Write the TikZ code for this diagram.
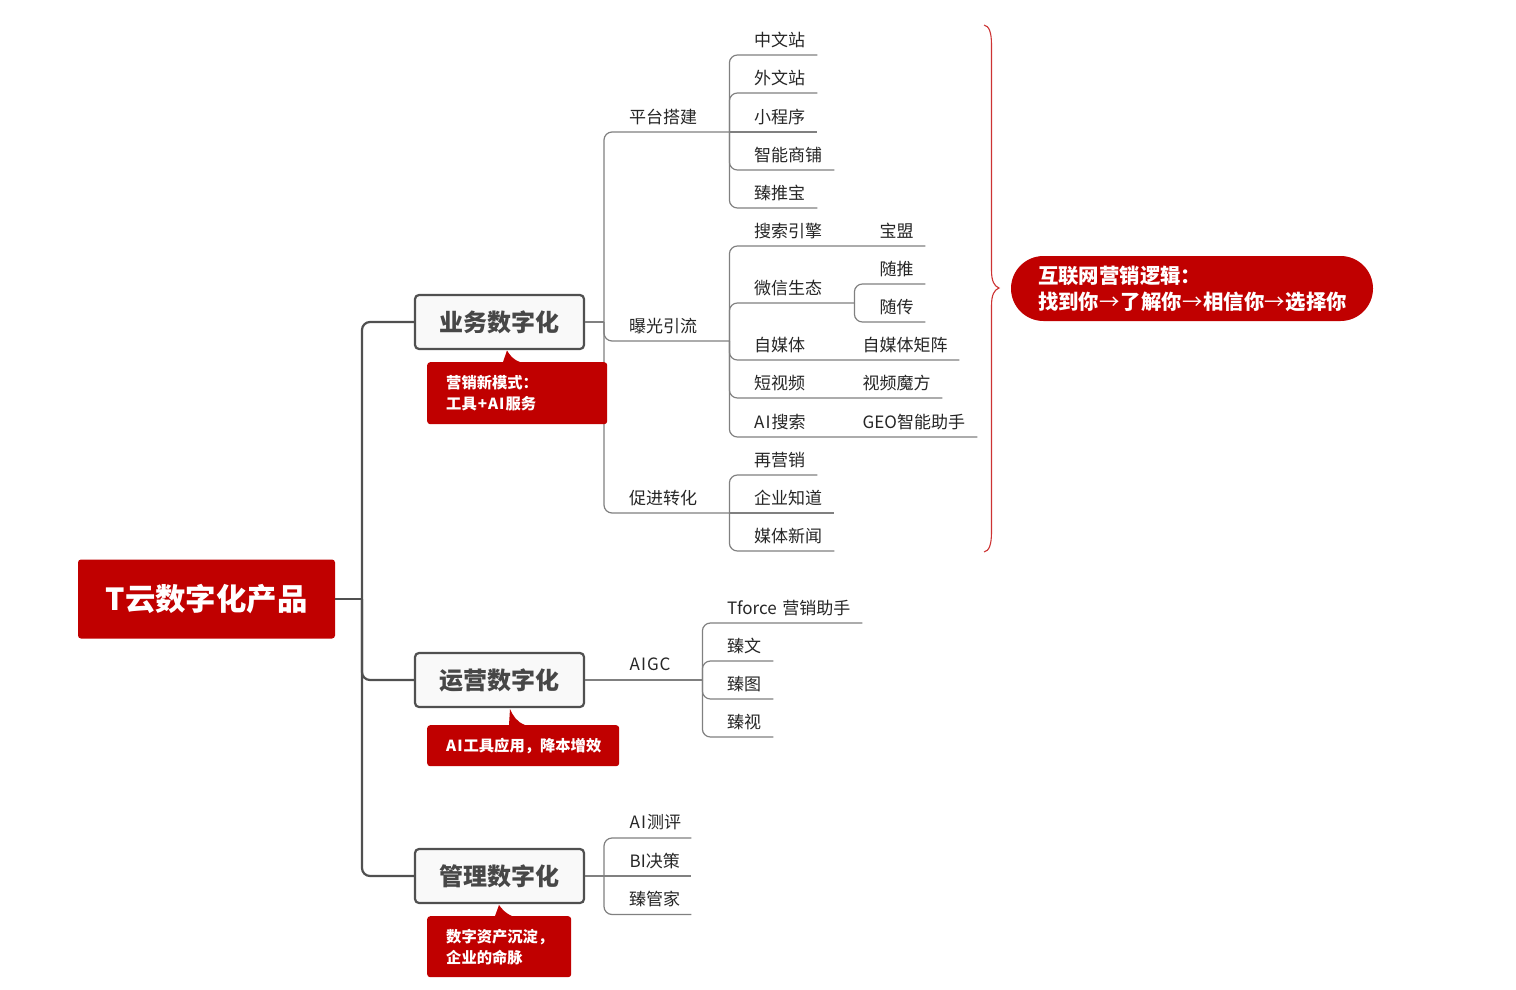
\documentclass[tikz,border=0pt]{standalone}
\usepackage{fontspec}
\setmainfont{Noto Sans CJK SC}
\definecolor{brandred}{HTML}{C00000}
\definecolor{trunkgray}{HTML}{505050}
\definecolor{branchgray}{HTML}{808080}
\definecolor{ink}{HTML}{262626}
\definecolor{boxfill}{HTML}{F9F9F9}
\tikzset{
  rootbox/.style={fill=brandred,rounded corners=3pt,text=white,font=\fontsize{30.4}{32}\selectfont\bfseries,inner sep=0pt,minimum width=257pt,minimum height=79pt},
  topicbox/.style={draw=trunkgray,line width=2.2pt,fill=boxfill,rounded corners=4pt,text=ink!85!white,font=\fontsize{24}{28}\selectfont\bfseries,inner sep=0pt,minimum width=169pt,minimum height=54pt},
  notebox/.style={fill=brandred,rounded corners=3pt,text=white,font=\fontsize{15.3}{21}\selectfont\bfseries,inner sep=0pt,anchor=north west},
  bubblebox/.style={fill=brandred,rounded corners=32.5pt,text=white,font=\fontsize{20.4}{26}\selectfont\bfseries,inner sep=0pt,minimum width=362pt,minimum height=65pt},
  leafbox/.style={inner sep=0pt,anchor=south west,minimum height=30.4pt,align=left,text=ink,font=\fontsize{17}{20}\selectfont},
  trunkline/.style={draw=trunkgray,line width=2.2pt,rounded corners=8pt},
  branchline/.style={draw=branchgray,line width=1.2pt,rounded corners=8pt},
  braceline/.style={draw=brandred!80!white,line width=1.1pt}
}
% \lf{name}{text x}{line end x}{line y}{text}
\newcommand{\lf}[5]{%
  \pgfmathsetlengthmacro{\lfw}{(#3-#2)*1pt}%
  \node[leafbox,text width=\lfw] (#1) at (#2,#4) {#5};}
% note text block, raised a little
\newcommand{\notetext}[2]{\raisebox{2pt}{\parbox{#1pt}{#2}}}
\newcommand{\arrowglyph}{\hspace{0.5pt}{\mdseries →}\hspace{0.5pt}}
\begin{document}
\begin{tikzpicture}[x=1pt,y=-1pt]
\useasboundingbox (0,0) rectangle (1516,990);
\fill[white] (0,0) rectangle (1516,990);

% main boxes
\node[rootbox] (root) at (206.5,599) {\raisebox{-2pt}{T云数字化产品}};
\node[topicbox] (biz) at (499.5,322) {\raisebox{-2pt}{业务数字化}};
\node[topicbox] (ops) at (499.5,680) {\raisebox{-2pt}{运营数字化}};
\node[topicbox] (mgt) at (499.5,876) {\raisebox{-2pt}{管理数字化}};

% trunk
\coordinate (tk) at (362,599);
\draw[trunkline] (root.east) -- (tk);
\draw[trunkline] (tk) |- (biz.west);
\draw[trunkline] (tk) |- (ops.west);
\draw[trunkline] (tk) |- (mgt.west);

% level two
\lf{ptdj}{629}{729}{132}{平台搭建}
\lf{bgyl}{629}{729}{341}{曝光引流}
\lf{cjzh}{629}{729}{513}{促进转化}
\coordinate (bizt) at (604,322);
\draw[branchline] (biz.east) -- (bizt);
\draw[branchline] (bizt) |- (ptdj.south east);
\draw[branchline] (bizt) |- (bgyl.south east);
\draw[branchline] (bizt) |- (cjzh.south east);

% platform children
\lf{zwz}{754}{817}{55}{中文站}
\lf{wwz}{754}{817}{93}{外文站}
\lf{xcx}{754}{817}{132}{小程序}
\lf{zncp}{754}{834}{170}{智能商铺}
\lf{ztb}{754}{817}{208}{臻推宝}
\draw[branchline] (ptdj.south east) |- (zwz.south east);
\draw[branchline] (ptdj.south east) |- (wwz.south east);
\draw[branchline] (ptdj.south east) -- (xcx.south east);
\draw[branchline] (ptdj.south east) |- (zncp.south east);
\draw[branchline] (ptdj.south east) |- (ztb.south east);

% exposure children
\lf{ssyq}{754}{880}{246}{搜索引擎}
\lf{bm}{879.5}{925}{246}{宝盟}
\lf{wxst}{754}{854}{303}{微信生态}
\lf{st}{879.5}{925}{284}{随推}
\lf{sc}{879.5}{925}{322}{随传}
\lf{zmt}{754}{863}{360}{自媒体}
\lf{zmtjz}{862.5}{959}{360}{自媒体矩阵}
\lf{dsp}{754}{863}{398}{短视频}
\lf{spmf}{862.5}{942}{398}{视频魔方}
\lf{aiss}{754}{863}{437}{A\hspace{1pt}I\hspace{1pt}搜索}
\lf{geo}{862.5}{977}{437}{GEO智能助手}
\draw[branchline] (bgyl.south east) |- (ssyq.south east) -- (bm.south east);
\draw[branchline] (bgyl.south east) |- (wxst.south east);
\draw[branchline] (bgyl.south east) |- (zmt.south east) -- (zmtjz.south east);
\draw[branchline] (bgyl.south east) |- (dsp.south east) -- (spmf.south east);
\draw[branchline] (bgyl.south east) |- (aiss.south east) -- (geo.south east);
\draw[branchline] (wxst.south east) |- (st.south east);
\draw[branchline] (wxst.south east) |- (sc.south east);

% conversion children
\lf{zyx}{754}{817}{475}{再营销}
\lf{qyzd}{754}{834}{513}{企业知道}
\lf{mtxw}{754}{834}{551}{媒体新闻}
\draw[branchline] (cjzh.south east) |- (zyx.south east);
\draw[branchline] (cjzh.south east) -- (qyzd.south east);
\draw[branchline] (cjzh.south east) |- (mtxw.south east);

% operations
\lf{aigc}{629.5}{702}{680}{A\hspace{1pt}I\hspace{1pt}G\hspace{1pt}C}
\draw[branchline] (ops.east) -- (aigc.south east);
\lf{tforce}{727}{862}{623}{Tforce 营销助手}
\lf{zw}{727}{773}{661}{臻文}
\lf{zt}{727}{773}{699}{臻图}
\lf{zs}{727}{773}{737}{臻视}
\draw[branchline] (aigc.south east) |- (tforce.south east);
\draw[branchline] (aigc.south east) |- (zw.south east);
\draw[branchline] (aigc.south east) |- (zt.south east);
\draw[branchline] (aigc.south east) |- (zs.south east);

% management
\coordinate (mgtt) at (604,876);
\lf{aicp}{629.5}{691}{838}{A\hspace{1pt}I\hspace{1pt}测评}
\lf{bijc}{629.5}{691}{876}{BI决策}
\lf{zgj}{629}{691}{914.5}{臻管家}
\draw[branchline] (mgt.east) -- (mgtt);
\draw[branchline] (mgtt) |- (aicp.south east);
\draw[branchline] (mgtt) -- (bijc.south east);
\draw[branchline] (mgtt) |- (zgj.south east);

% notes with pointers
\fill[brandred] (507,350.5) -- (503,362) -- (520,362) .. controls (512,359) and (510,355) .. cycle;
\node[notebox,minimum width=180pt,minimum height=62pt] (n1) at (427,362) {\notetext{142}{营销新模式：\\工具\hspace{1pt}+\hspace{1pt}A\hspace{1pt}I\hspace{1pt}服务}};
\fill[brandred] (510,709) -- (509,725) -- (525,725) .. controls (517,722) and (513,716) .. cycle;
\node[notebox,minimum width=192pt,minimum height=41pt] (n2) at (427,725) {\notetext{154}{\mbox{A\hspace{1pt}I\hspace{1pt}工具应用，降本增效}}};
\fill[brandred] (499,905) -- (495,916) -- (512,916) .. controls (505,913) and (502,909) .. cycle;
\node[notebox,minimum width=144pt,minimum height=61pt] (n3) at (427,916) {\notetext{106}{\mbox{数字资产沉淀，}\\企业的命脉}};

% brace
\draw[braceline] (984,25) .. controls (989,26) and (991.5,32) .. (991.5,45)
  -- (991.5,270) .. controls (991.5,281) and (994,286) .. (999,288)
  .. controls (994,290) and (991.5,295) .. (991.5,306)
  -- (991.5,532) .. controls (991.5,545) and (989,551) .. (984,552);

% bubble
\node[bubblebox] (logic) at (1192,288.5) {\raisebox{-1pt}{\parbox{308pt}{互联网营销逻辑：\\\mbox{找到你\arrowglyph 了解你\arrowglyph 相信你\arrowglyph 选择你}}}};
\end{tikzpicture}
\end{document}
